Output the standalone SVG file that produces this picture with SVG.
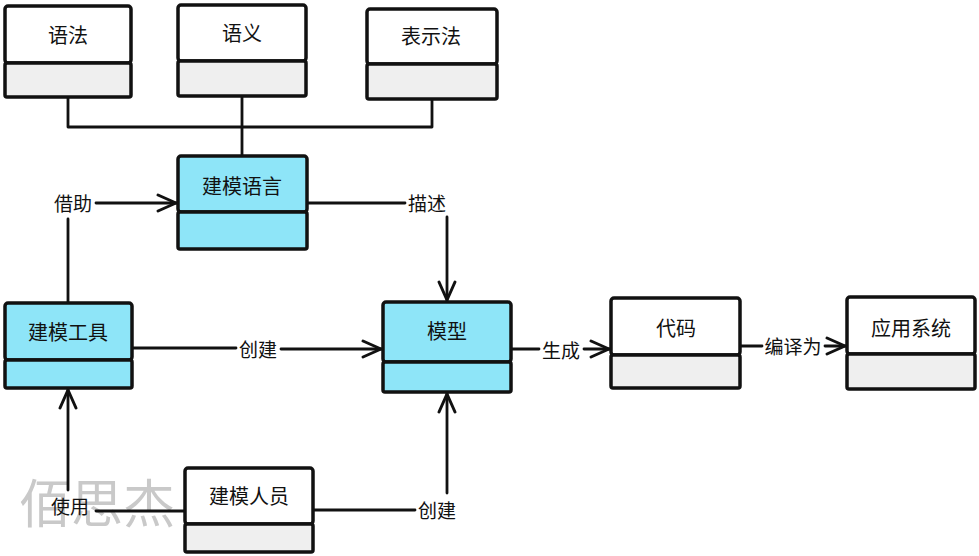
<svg xmlns="http://www.w3.org/2000/svg" width="979" height="556" viewBox="0 0 979 556">
<style>
.box{stroke:#111;stroke-width:3.5;stroke-linejoin:round}
.w{fill:#ffffff}.g{fill:#efefef}.c{fill:#8ee5f8}
.t{font-family:"Noto Sans CJK SC","Noto Sans",sans-serif;font-size:20px;fill:#111;text-anchor:middle;dominant-baseline:central}
.l{font-family:"Noto Sans CJK SC","Noto Sans",sans-serif;font-size:19px;fill:#111;text-anchor:middle;dominant-baseline:central}
.e{fill:none;stroke:#111;stroke-width:2.8;stroke-linecap:round;stroke-linejoin:round}
.wm{font-family:"Noto Sans CJK SC",sans-serif;font-size:52px;fill:#c9c9c9;text-anchor:middle;dominant-baseline:central}
</style>
<defs>
<marker id="arr" viewBox="0 0 24 24" refX="22" refY="12" markerWidth="24" markerHeight="24" markerUnits="userSpaceOnUse" orient="auto">
<path d="M3,4 L21,12 L3,20" fill="none" stroke="#111" stroke-width="3" stroke-linecap="round" stroke-linejoin="round"/>
</marker>
</defs>
<rect width="979" height="556" fill="#ffffff"/>
<text class="wm" x="97" y="500">佰思杰</text>
<g id="connectors">
<path class="e" d="M68,97 V127 H432 V99"/>
<path class="e" d="M242,96 V156"/>
<path class="e" d="M68,303 V219"/>
<path class="e" d="M96,203 H177" marker-end="url(#arr)"/>
<path class="e" d="M307,203 H405"/>
<path class="e" d="M447,217 V301" marker-end="url(#arr)"/>
<path class="e" d="M132,348 H236"/>
<path class="e" d="M281,349 H382" marker-end="url(#arr)"/>
<path class="e" d="M511,349 H539"/>
<path class="e" d="M584,349 H610" marker-end="url(#arr)"/>
<path class="e" d="M740,346 H762"/>
<path class="e" d="M825,346 H846" marker-end="url(#arr)"/>
<path class="e" d="M185,511 H96"/>
<path class="e" d="M68,490 V389" marker-end="url(#arr)"/>
<path class="e" d="M313,510 H415"/>
<path class="e" d="M447,493 V393" marker-end="url(#arr)"/>
<text class="l" x="73" y="202">借助</text>
<text class="l" x="427" y="202">描述</text>
<text class="l" x="258" y="348">创建</text>
<text class="l" x="561" y="349">生成</text>
<text class="l" x="793" y="345">编译为</text>
<text class="l" x="70" y="505">使用</text>
<text class="l" x="437" y="509">创建</text>
</g>
<g id="yufa">
<rect class="box w" x="5" y="6" width="126" height="57" rx="3"/>
<rect class="box g" x="5" y="63" width="126" height="34" rx="2"/>
<text class="t" x="68" y="34">语法</text>
</g>
<g id="yuyi">
<rect class="box w" x="178" y="5" width="128" height="56" rx="3"/>
<rect class="box g" x="178" y="61" width="128" height="35" rx="2"/>
<text class="t" x="242" y="32">语义</text>
</g>
<g id="biaoshifa">
<rect class="box w" x="367" y="9" width="130" height="55" rx="3"/>
<rect class="box g" x="367" y="64" width="130" height="35" rx="2"/>
<text class="t" x="431" y="35">表示法</text>
</g>
<g id="jianmoyuyan">
<rect class="box c" x="178" y="156" width="129" height="56" rx="3"/>
<rect class="box c" x="178" y="212" width="129" height="37" rx="2"/>
<text class="t" x="242" y="185">建模语言</text>
</g>
<g id="jianmogongju">
<rect class="box c" x="5" y="303" width="127" height="57" rx="3"/>
<rect class="box c" x="5" y="360" width="127" height="28" rx="2"/>
<text class="t" x="68" y="331">建模工具</text>
</g>
<g id="moxing">
<rect class="box c" x="383" y="302" width="128" height="60" rx="3"/>
<rect class="box c" x="383" y="362" width="128" height="30" rx="2"/>
<text class="t" x="447" y="330">模型</text>
</g>
<g id="daima">
<rect class="box w" x="611" y="298" width="129" height="57" rx="3"/>
<rect class="box g" x="611" y="355" width="129" height="33" rx="2"/>
<text class="t" x="676" y="327">代码</text>
</g>
<g id="yingyongxitong">
<rect class="box w" x="847" y="297" width="128" height="57" rx="3"/>
<rect class="box g" x="847" y="354" width="128" height="35" rx="2"/>
<text class="t" x="911" y="327">应用系统</text>
</g>
<g id="jianmorenyuan">
<rect class="box w" x="185" y="468" width="128" height="56" rx="3"/>
<rect class="box g" x="185" y="524" width="128" height="28" rx="2"/>
<text class="t" x="249" y="495">建模人员</text>
</g>
</svg>
